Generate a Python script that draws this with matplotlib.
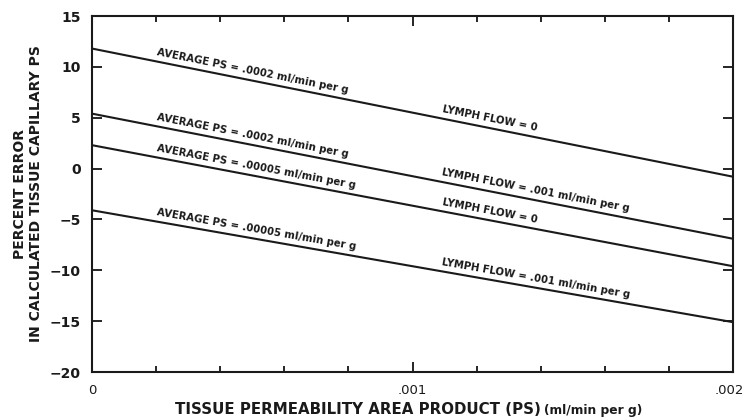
import numpy as np
import matplotlib
matplotlib.use("Agg")
import matplotlib.pyplot as plt
import matplotlib.transforms as mtransforms

# readings from the picture
ps = [0.0, 0.002]
err_avg0002_lf0 = [11.8, -0.8]
err_avg0002_lf001 = [5.4, -6.9]
err_avg00005_lf0 = [2.3, -9.6]
err_avg00005_lf001 = [-4.1, -15.1]

series = [err_avg0002_lf0, err_avg0002_lf001, err_avg00005_lf0, err_avg00005_lf001]
avg_labels = ["AVERAGE PS = .0002 ml/min per g",
              "AVERAGE PS = .0002 ml/min per g",
              "AVERAGE PS = .00005 ml/min per g",
              "AVERAGE PS = .00005 ml/min per g"]
flow_labels = ["LYMPH FLOW = 0",
               "LYMPH FLOW = .001 ml/min per g",
               "LYMPH FLOW = 0",
               "LYMPH FLOW = .001 ml/min per g"]
xtick_vals = [0, 0.001, 0.002]
xtick_text = ["0", ".001", ".002"]
ytick_vals = list(range(-20, 16, 5))

ink = "#1a1a1a"
my_dpi = 100
fig = plt.figure(figsize=(746/my_dpi, 420/my_dpi), dpi=my_dpi)
ax = fig.add_axes([92/746, 1-372/420, (733-92)/746, (372-16)/420])

for s in series:
    ax.plot(ps, s, color=ink, lw=1.5, solid_capstyle="butt")

def line_at(s, x):
    return s[0] + (s[1]-s[0]) * (x - ps[0]) / (ps[1] - ps[0])

for s, a, f in zip(series, avg_labels, flow_labels):
    for x0, lab in [(0.0002, a), (0.00109, f)]:
        y0 = line_at(s, x0) + 0.45
        ang = np.degrees(np.arctan2(s[1]-s[0], ps[1]-ps[0]))
        ax.text(x0, y0, lab, rotation=ang, rotation_mode="anchor",
                transform_rotates_text=True, ha="left", va="bottom",
                fontsize=7.3, fontweight="bold", color=ink)

ax.set_xlim(0, 0.002)
ax.set_ylim(-20, 15)
ax.set_xticks(xtick_vals)
ax.set_xticklabels(xtick_text)
ax.set_xticks(np.arange(0, 0.0021, 0.0002), minor=True)
ax.set_yticks(ytick_vals)
ax.set_yticklabels([str(v).replace("-", "\u2212") for v in ytick_vals])
ax.tick_params(axis="x", which="major", direction="in", length=7, width=1.2,
               top=True, labelsize=9.5, pad=9)
ax.tick_params(axis="x", which="minor", direction="in", length=4, width=1.2, top=True)
ax.tick_params(axis="y", direction="in", length=7, width=1.2, right=True,
               labelsize=10, pad=8)
for tl in ax.get_yticklabels():
    tl.set_fontweight("bold")
    tl.set_color(ink)
for tl in ax.get_xticklabels():
    tl.set_color(ink)
last = ax.get_xticklabels()[-1]
last.set_transform(last.get_transform() +
                   mtransforms.ScaledTranslation(-3/72, 0, fig.dpi_scale_trans))
for sp in ax.spines.values():
    sp.set_linewidth(1.5)
    sp.set_color(ink)

# x label: big caps part, then the smaller unit right after it
xl = fig.text(175/746, 1-414/420, "TISSUE PERMEABILITY AREA PRODUCT (PS)", ha="left",
              va="baseline", fontsize=10.8, fontweight="bold", color=ink)
fig.canvas.draw()
bb = xl.get_window_extent()
fig.text((bb.x1 + 3)/746, 1-414/420, "(ml/min per g)", ha="left", va="baseline",
         fontsize=8.8, fontweight="bold", color=ink)
fig.text(28/746, 1-194/420, "PERCENT ERROR\nIN CALCULATED TISSUE CAPILLARY PS",
         rotation=90, ha="center", va="center", fontsize=10, fontweight="bold",
         color=ink, linespacing=1.15)

plt.savefig("out.png", dpi=my_dpi)
